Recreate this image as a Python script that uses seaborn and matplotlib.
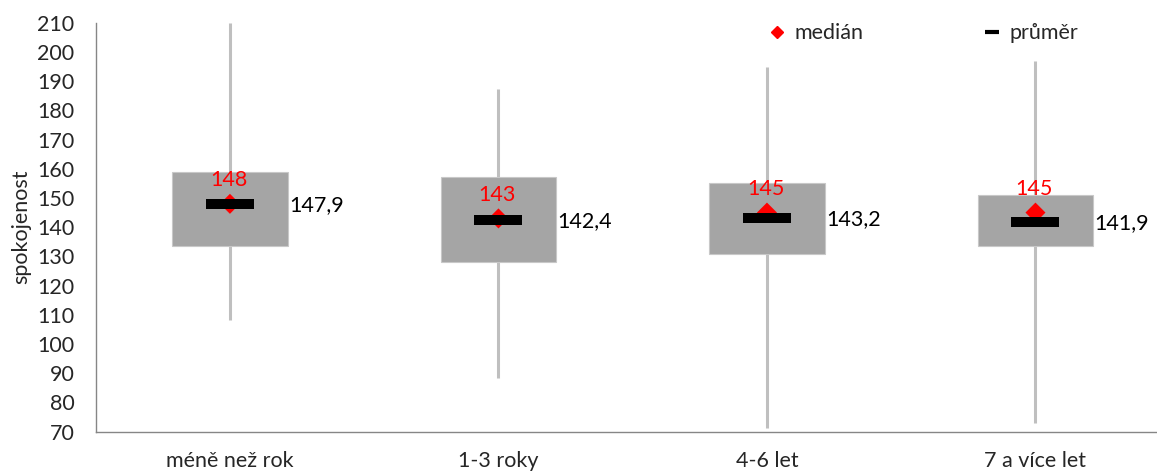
import numpy as np
import matplotlib
matplotlib.use("Agg")
import matplotlib.pyplot as plt
import seaborn as sns
from matplotlib.lines import Line2D

categories = ["méně než rok", "1-3 roky", "4-6 let", "7 a více let"]
minimum = [108.2, 88.3, 71.4, 73.1]
q1 = [133.7, 128.2, 130.9, 133.4]
median = [148, 143, 145, 145]
mean = [147.9, 142.4, 143.2, 141.9]
q3 = [159.0, 157.1, 155.1, 151.1]
maximum = [210.0, 187.4, 194.9, 197.0]
yticks = list(range(70, 211, 10))

sns.set_theme(style="white")
plt.rcParams["font.family"] = ["Lato", "DejaVu Sans"]
FS = 15.5

fig = plt.figure(figsize=(11.57, 4.72), dpi=100)
ax = fig.add_axes([0.0827, 0.0854, 1.011 - 0.0827, 0.9519 - 0.0854])

x = np.arange(len(categories))
box_w = 0.43
ax.vlines(x, minimum, maximum, color="#BFBFBF", linewidth=2.2, zorder=1)
ax.bar(x, np.array(q3) - np.array(q1), bottom=q1, width=box_w,
       color="#A5A5A5", edgecolor="#C8C8C8", linewidth=0.8, zorder=2)
sns.scatterplot(x=x, y=median, marker="D", s=10.2 ** 2, color="#FF0000",
                edgecolor="none", zorder=3, ax=ax, legend=False)
ax.plot(x, mean, linestyle="none", marker="_", markersize=35,
        markeredgewidth=7.2, color="black", zorder=4)

for xi, md, mn in zip(x, median, mean):
    ax.annotate(f"{md}", (xi, md), xytext=(-1, 10), textcoords="offset points",
                ha="center", va="bottom", color="#FF0000", fontsize=FS, zorder=5)
    ax.annotate(f"{mn:.1f}".replace(".", ","), (xi + box_w / 2, mn),
                xytext=(1, -1), textcoords="offset points",
                ha="left", va="center", color="black", fontsize=FS, zorder=5)

ax.set_xlim(-0.5, 3.5)
ax.set_ylim(70, 210)
ax.set_yticks(yticks)
ax.set_yticklabels([str(t) for t in yticks], fontsize=FS)
ax.set_xticks([0.5, 1.5, 2.5], minor=False)
ax.set_xticklabels([])
ax.set_xticks(x, minor=True)
ax.set_xticklabels(categories, minor=True, fontsize=FS)
ax.tick_params(axis="x", which="minor", length=0, pad=14)
ax.tick_params(axis="x", which="major", length=5, width=1, color="#868686", direction="out")
ax.tick_params(axis="y", length=10.5, width=1, color="#868686", direction="inout", pad=10)
ax.set_ylabel("spokojenost", fontsize=FS, labelpad=4)

for s in ["top", "right"]:
    ax.spines[s].set_visible(False)
for s in ["left", "bottom"]:
    ax.spines[s].set_color("#868686")
    ax.spines[s].set_linewidth(1)

handles = [
    Line2D([], [], marker="D", color="#FF0000", linestyle="none", markersize=6.5),
    Line2D([], [], marker="_", color="black", linestyle="none", markersize=10, markeredgewidth=3),
]
fig.legend(handles, ["medián", "průměr"], loc="center", bbox_to_anchor=(0.798, 0.93),
           ncol=2, frameon=False, fontsize=FS, handlelength=0.8, handletextpad=0.4,
           columnspacing=5.6)

fig.savefig("out.png", dpi=100)
